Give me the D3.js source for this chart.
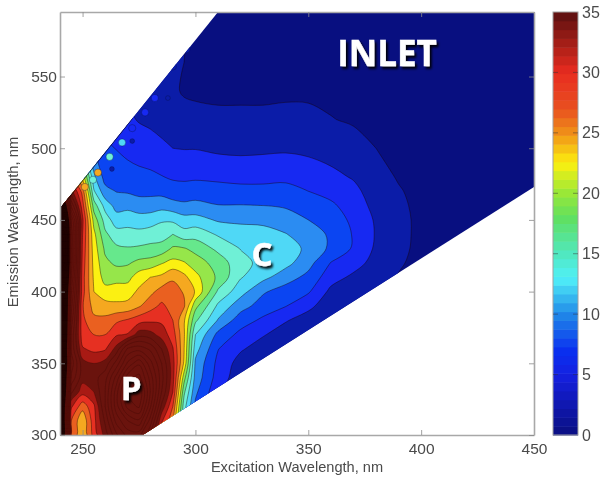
<!DOCTYPE html>
<html><head><meta charset="utf-8">
<script src="https://cdn.jsdelivr.net/npm/d3@7/dist/d3.min.js"></script>
<style>
html,body{margin:0;padding:0;background:#fff;overflow:hidden}
svg{display:block}
.blurred{filter:blur(0.7px)}
text{font-family:"Liberation Sans",Arial,sans-serif;fill:#4a4a4a}
.big{font-family:"Open Sans",sans-serif;font-weight:700;fill:#fff;stroke:#fff;stroke-width:.4px}
</style></head><body>
<svg id="c" width="610" height="483"></svg>
<script>
const excitation=[240,245,250,255,260,265,270,275,280,285,290,295,300,310,320,330,340,350,360,370,380,390,400,410,420,430,440,450];
const emission=[600,580,560,540,520,500,480,470,460,450,440,430,420,410,400,390,380,370,360,350,340,330,320,310,300];
const intensity=[
[3,3,3,3,3,3,3,3,3,3,3,2.6,2,1.5,1.2,1.2,1.2,1.1,1,1,1,.9,.9,.9,.8,.8,.8,.8],
[3,3,3,3,3,3,3,3,3,3,3,2.6,1.9,1.6,1.4,1.4,1.4,1.3,1.2,1.1,1,1,.9,.9,.9,.8,.8,.8],
[4,4,4,4,4,4,3.8,3.6,3.3,3,2.8,2.5,2,1.7,1.6,1.6,1.7,1.6,1.5,1.3,1.2,1.1,1,1,.9,.8,.8,.8],
[6,6,6,6,6,5,4.5,4.2,3.7,3.3,2.8,2.3,2.1,2,2,2,2.1,2.2,1.9,1.5,1.3,1.2,1.1,1,.9,.9,.8,.8],
[10,9,8,7,6.5,6,5.5,4.8,4.5,3.9,3.6,3.2,3.2,3,3,3,3.1,2.9,2.6,2.2,1.5,1.3,1.2,1.1,1,.9,.9,.8],
[20,16,14,10,8,7.4,6.8,6.5,6,5.6,5,4.9,4.9,4.5,4.4,4.5,4.6,4.4,4,3.5,2.5,1.9,1.4,1.2,1.1,1,.9,.9],
[60,30,24,13,9,9,8.5,8.1,8,7.6,7.2,7,7.1,7,6.7,6.8,7,6.4,5.6,4.8,3.4,2.3,1.6,1.3,1.1,1,1,.9],
[70,36,29,15.3,10.8,9.9,9.7,9.3,9.3,9.2,8.5,8.6,8.8,8.4,8.3,8.2,8.2,7.5,6.6,5.6,3.9,2.7,1.8,1.4,1.2,1.1,1,1],
[90,42,31,18.8,14,11.6,11.8,11.2,11.2,11.5,11,10.5,10.7,10.1,10.1,10,9.7,8.8,8,6.2,4.3,2.9,2,1.5,1.3,1.1,1,1],
[110,50,33,21.5,16.4,13.6,13.9,13.6,13.8,14.7,14.5,13.5,13.5,12.2,12,11.9,11.2,10,9,6.9,4.7,3,2.1,1.5,1.3,1.2,1.1,1],
[120,52,32.5,23.2,18,16.1,16,15.8,16.2,16.4,17.5,16,16.5,14.7,13.7,13.4,12.6,11.3,9.6,7.3,4.8,3,2.1,1.6,1.3,1.2,1.1,1],
[120,52,32,23.8,19.5,18,17.7,17.9,18.2,18.5,20.4,20.2,19.2,16.9,14.9,14.6,13.8,11.9,9.5,7.2,4.6,2.9,2.1,1.6,1.3,1.2,1.1,1],
[120,52,31.5,24.2,20.6,19.5,19.7,20.7,21,22.3,23.3,22.7,21.3,18.9,15.9,14.2,13.3,10.9,7.4,6,4.1,2.7,2,1.5,1.3,1.2,1.1,1],
[110,50,31,24.6,21.5,21.7,21.7,23.8,25,25.6,27.2,25.7,23.3,19.5,15.2,13.2,11.1,9.3,6,4.5,3.6,2.4,1.8,1.4,1.2,1.1,1,.9],
[100,48,31,25,23.4,23.6,23.8,25.5,26.8,28.5,28.3,27.3,24.8,17.1,13.5,10.3,8.9,7.8,4.4,3.6,3,2.2,1.6,1.3,1.1,1,.9,.9],
[100,46,30.2,26.6,26,25.6,25.8,27.2,29,30.5,29,27.8,20.8,14.5,11,8.9,7.6,5.6,3.6,3,2.5,2,1.5,1.2,1.1,1,.9,.9],
[100,44,30.6,28.1,28.2,29.5,30.3,31.4,32,32,30,25.3,18,12.3,8.7,7,5.2,3.9,3,2.5,2,1.7,1.3,1.1,1,1,.9,.9],
[100,42,31,30,30,32.2,32.7,36.5,36,34,31.2,25.3,15,9.3,6.8,5.2,3.8,3.2,2.5,2.1,1.8,1.4,1.2,1,1,.9,.9,.9],
[95,42,32.8,31.8,32.2,36,43,44,42,37.5,32.7,25,13.5,7.6,5.3,3.8,3,2.7,2.1,1.8,1.5,1.2,1,1,.9,.9,.9,.9],
[95,44,36,35,36,41,48,52,46,40,33.5,24.5,12,6.8,4,3,2.6,2.2,1.8,1.5,1.2,1,.9,.9,.9,.9,.9,.9],
[90,42,36,36.5,39,46,54,56,49,41,33.5,21,11.5,6.4,3.5,2.7,2.3,1.9,1.5,1.3,1,.9,.9,.9,.9,.9,.9,.9],
[90,38,33.5,35,40,49,58,60,50,40,32.5,18,10.5,5.5,3,2.4,2,1.7,1.3,1.1,1,.9,.9,.9,.9,.9,.9,.9],
[85,33,28.5,32,40,49,56,58,48,37,30,16,9.5,5,2.8,2.2,1.8,1.5,1.2,1,.9,.9,.9,.9,.9,.9,.9,.9],
[85,30,25.4,31.5,38,46,50,52,44,33,28,15,9,5,2.6,2,1.6,1.4,1.1,1,.9,.9,.9,.9,.9,.9,.9,.9],
[85,30,25.2,31,36,42,46,46,40,30,28,15,9,5,2.5,1.9,1.5,1.3,1,.9,.9,.9,.9,.9,.9,.9,.9,.9]
];
const maskOutline=[[240,458],[310,595],[450,595],[450,473],[276.6,300],[240,300]];
const edgeShade=[[243,464],[272,521]];
const edgeSpots=[[251,473,26],[254.6,478,15],[256.8,483,25],[262,494,15.5],[267.5,504,13],[272,514,7],[277.7,525,5.5],[282,535,5.5],[290,557,3],[296,569,3]];
const innerSpots=[[263,485.5,3],[272,505,3],[287.8,535,3]];
const xTicks=[250,300,350,400,450];
const yTicks=[300,350,400,450,500,550];
const barTicks=[0,5,10,15,20,25,30,35];
const levels=d3.range(0,135,2.5);
const bandColors=["#080f80","#0b1ca8","#1729f2","#0b45f2","#2b8cf2","#4fd8f6","#6ff0d6","#66e88c","#96e64a","#fbf012","#f5a820","#ea6020","#e63022","#a81a14","#6a130d"];
const barStops=[0,5,7,10,13,15,18,20,22.5,25,27,30,32,35];
const barColors=["#0a0f80","#1520e0","#0a30f0","#2088e8","#50f0f8","#50e8c0","#60e060","#98e838","#fcf010","#f09018","#e85020","#e82c20","#b02018","#5a1010"];
const saturatedLevel=62.5, saturatedColor="#240604";

const svg=d3.select("#c");
const root=svg.append("g").attr("class","blurred");
const x=d3.scaleLinear().domain([240,450]).range([60,534]);
const y=d3.scaleLinear().domain([300,595]).range([435,12]);
// grid index -> wavelength (d3.contours places sample i at i+0.5)
const ix=d3.scaleLinear().domain(excitation.map((d,i)=>i+.5)).range(excitation);
const iy=d3.scaleLinear().domain(emission.map((d,i)=>i+.5)).range(emission);
const nx=excitation.length, ny=emission.length;
const contours=d3.contours().size([nx,ny]).thresholds(levels)(intensity.flat());
const ringPath=d3.line().curve(d3.curveCatmullRomClosed.alpha(.5));
function shape(c){
  let s="";
  c.coordinates.forEach(poly=>poly.forEach(ring=>{
    const pts=ring.slice(0,-1).map(p=>[x(ix(p[0])),y(iy(p[1]))]);
    if(pts.length>2) s+=ringPath(pts);
  }));
  return s;
}
svg.append("defs").append("clipPath").attr("id","mask").append("path")
  .attr("d","M"+maskOutline.map(d=>[x(d[0]),y(d[1])].join(",")).join("L")+"Z");
const plot=root.append("g").attr("clip-path","url(#mask)");
plot.append("g").selectAll("path").data(contours).join("path")
  .attr("d",shape)
  .attr("fill-rule","evenodd")
  .attr("fill",(d,i)=>d.value>=saturatedLevel?saturatedColor:bandColors[Math.min(i,bandColors.length-1)])
  .attr("stroke","#1a0503")
  .attr("stroke-opacity",d=>d.value>=35?.3:.6)
  .attr("stroke-width",d=>d.value>=35?.6:.7);
plot.append("g").selectAll("circle").data(edgeSpots.concat(innerSpots)).join("circle")
  .attr("cx",d=>x(d[0])).attr("cy",d=>y(d[1])).attr("r",(d,i)=>i<edgeSpots.length?3.6:2.4)
  .attr("fill",d=>bandColors[Math.min(Math.floor(d[2]/2.5),bandColors.length-1)])
  .attr("stroke","#08104a").attr("stroke-opacity",.5).attr("stroke-width",.7);
plot.append("line").attr("x1",x(edgeShade[0][0])).attr("y1",y(edgeShade[0][1]))
  .attr("x2",x(edgeShade[1][0])).attr("y2",y(edgeShade[1][1]))
  .attr("stroke","#111").attr("stroke-width",1.6);

function styleAxis(g){g.selectAll(".domain").attr("stroke","#a8a8a8").attr("stroke-width",1.6);
  g.selectAll(".tick line").attr("stroke","#8a8a8a").attr("stroke-width",.8);
  g.selectAll("text").attr("font-size",15.5).attr("fill","#3c3c3c");}
const axes=root.append("g");
axes.append("g").attr("transform","translate(0,435)")
  .call(d3.axisBottom(x).tickValues(xTicks).tickSize(-5).tickPadding(8).tickSizeOuter(0)).call(styleAxis);
axes.append("g").attr("transform","translate(60,0)")
  .call(d3.axisLeft(y).tickValues(yTicks).tickSize(-5).tickPadding(3).tickSizeOuter(0)).call(styleAxis);
axes.append("g").attr("transform","translate(0,12)")
  .call(d3.axisTop(x).tickValues(xTicks).tickSize(-5).tickFormat("").tickSizeOuter(0)).call(styleAxis);
axes.append("g").attr("transform","translate(534,0)")
  .call(d3.axisRight(y).tickValues(yTicks).tickSize(-5).tickFormat("").tickSizeOuter(0)).call(styleAxis);
root.append("text").attr("x",297).attr("y",472).attr("text-anchor","middle").attr("font-size",14.6).text("Excitation Wavelength, nm");
root.append("text").attr("transform","translate(18,222) rotate(-90)").attr("text-anchor","middle").attr("font-size",14.8).text("Emission Wavelength, nm");

// colour bar
const barY=d3.scaleLinear().domain([0,35]).range([435,12]);
const barColor=d3.scaleLinear().domain(barStops).range(barColors);
const bands=d3.range(0,35,35/48);
root.append("g").selectAll("rect").data(bands).join("rect")
  .attr("x",553).attr("width",25).attr("y",d=>barY(d+35/48)).attr("height",d=>barY(d)-barY(d+35/48)+.5)
  .attr("fill",d=>barColor(d+35/96));
root.append("rect").attr("x",553).attr("y",12).attr("width",25).attr("height",423).attr("fill","none").attr("stroke","#a0a0a0").attr("stroke-width",1);
const barAxis=root.append("g").attr("transform","translate(578,0)")
  .call(d3.axisRight(barY).tickValues(barTicks).tickSize(0).tickPadding(4));
barAxis.select(".domain").remove();
barAxis.selectAll("text").attr("font-size",16).attr("fill","#3c3c3c");
root.append("g").selectAll("path").data(barTicks.slice(1,-1)).join("path")
  .attr("d",d=>`M553,${barY(d)}h5M573,${barY(d)}h5`).attr("stroke","#333").attr("stroke-opacity",.6).attr("stroke-width",.8);

// annotation labels
const shadow=svg.select("defs").append("filter").attr("id","sh").attr("x","-20%").attr("y","-20%").attr("width","150%").attr("height","150%");
shadow.append("feDropShadow").attr("dx",2).attr("dy",2.5).attr("stdDeviation",1.2).attr("flood-color","#000").attr("flood-opacity",.95);
const notes=[["INLET",387,66,35],["C",262,266,33],["P",131,400,33]];
root.append("g").attr("filter","url(#sh)").selectAll("text").data(notes).join("text")
  .attr("class","big").attr("x",d=>d[1]).attr("y",d=>d[2]).attr("text-anchor","middle").attr("font-size",d=>d[3]).text(d=>d[0]);
</script></body></html>
